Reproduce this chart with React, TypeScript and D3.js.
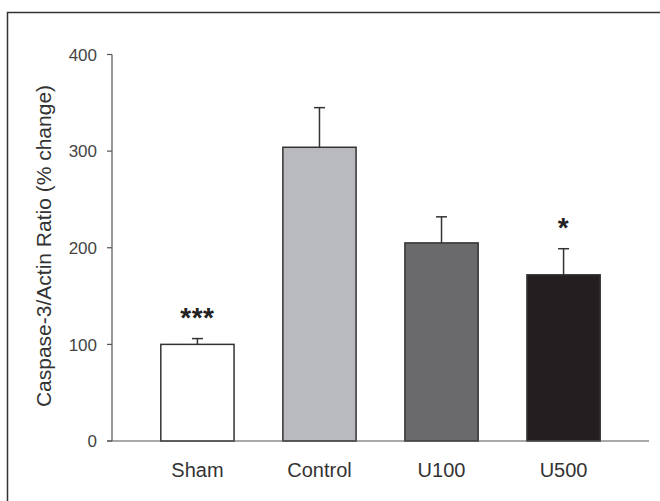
import React from "react";
import { scaleBand, scaleLinear } from "d3";

// data
const groups = ["Sham", "Control", "U100", "U500"];
const means = [100, 304, 205, 172];
const errors = [6, 41, 27, 27];
const marks = ["***", "", "", "*"];
const fills = ["#ffffff", "#b9babe", "#6a6a6c", "#231f20"];
const yTicks = [0, 100, 200, 300, 400];

const W = 660;
const H = 501;

export default function App() {
  const x = scaleBand<string>().domain(groups).range([112, 649]).padding(0.4);
  const y = scaleLinear().domain([0, 400]).range([441, 54.5]);
  const font = "'Liberation Sans', Arial, sans-serif";

  return (
    <svg
      width={W}
      height={H}
      style={{ position: "absolute", left: 0, top: 0, background: "#fff" }}
      fontFamily={font}
    >
      {/* outer frame */}
      <rect x={7.5} y={12.5} width={700} height={600} fill="none" stroke="#333" strokeWidth={1.5} />

      {/* y axis */}
      <line x1={112} x2={112} y1={y(400)} y2={y(0)} stroke="#555" strokeWidth={1.2} />
      {yTicks.map((t) => (
        <g key={t} transform={`translate(0, ${y(t)})`}>
          <line x1={107} x2={112} stroke="#555" strokeWidth={1.2} />
          <text x={97} dy="0.36em" textAnchor="end" fontSize={17} fill="#444">
            {t}
          </text>
        </g>
      ))}

      {/* bars */}
      {groups.map((g, i) => {
        const cx = x(g)! + x.bandwidth() / 2;
        const top = y(means[i]);
        const cap = y(means[i] + errors[i]);
        return (
          <g key={g}>
            <line x1={cx} x2={cx} y1={top} y2={cap} stroke="#333" strokeWidth={1.5} />
            <line x1={cx - 5.5} x2={cx + 5.5} y1={cap} y2={cap} stroke="#333" strokeWidth={1.5} />
            <rect
              x={x(g)}
              y={top}
              width={x.bandwidth()}
              height={y(0) - top}
              fill={fills[i]}
              stroke="#333"
              strokeWidth={1.5}
            />
            {marks[i] && (
              <text
                x={cx}
                y={cap - 12}
                textAnchor="middle"
                fontSize={28}
                fontWeight="bold"
                letterSpacing={0.5}
                fill="#222"
              >
                {marks[i]}
              </text>
            )}
            <text x={cx} y={477} textAnchor="middle" fontSize={20} fill="#333">
              {g}
            </text>
          </g>
        );
      })}

      {/* x axis */}
      <line x1={107} x2={649} y1={y(0)} y2={y(0)} stroke="#555" strokeWidth={1.2} />

      {/* y label */}
      <text transform="translate(51, 246) rotate(-90)" textAnchor="middle" fontSize={21} fill="#333">
        Caspase-3/Actin Ratio (% change)
      </text>
    </svg>
  );
}
